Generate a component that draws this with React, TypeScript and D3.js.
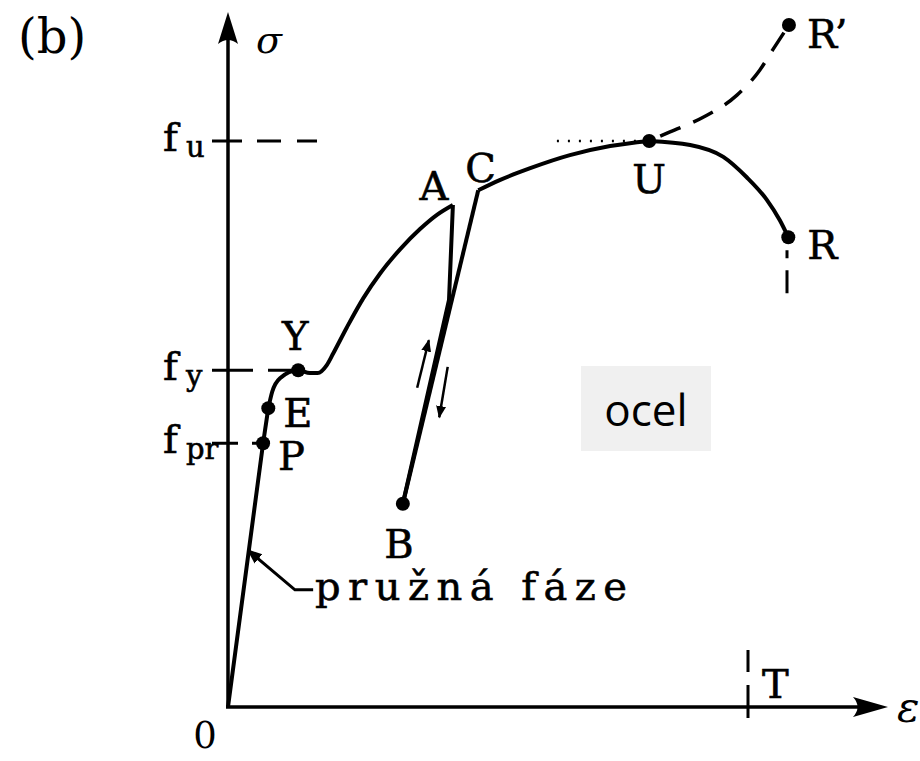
import React from "react";
import * as d3 from "d3";

// stress-strain curve of steel (strain ε, stress σ as % of f_u)
const elasticPath: [number, number][] = [
  [0, 0],
  [5.4, 46.6],
  [6.2, 52.8],
];
const yieldPath: [number, number][] = [
  [6.2, 52.8],
  [6.8, 55.7],
  [8.0, 58.1],
  [10.8, 59.5],
  [12.6, 59.0],
  [13.8, 59.0],
  [15.2, 60.4],
  [16.2, 62.5],
  [18.3, 67.1],
  [20.8, 72.2],
  [23.4, 76.6],
  [26.5, 80.9],
  [29.5, 84.4],
  [32.2, 87.0],
  [34.6, 88.7],
];
const unloadPath: [number, number][] = [
  [34.6, 88.7],
  [34.0, 71.9],
  [26.9, 35.9],
];
const reloadPath: [number, number][] = [
  [26.9, 35.9],
  [38.5, 91.3],
];
const hardeningPath: [number, number][] = [
  [38.5, 91.3],
  [41.8, 93.1],
  [46.5, 95.2],
  [52.6, 97.5],
  [58.8, 99.1],
  [64.8, 100],
];
const neckingPath: [number, number][] = [
  [64.8, 100],
  [71.1, 99.3],
  [76.2, 97.2],
  [79.8, 93.6],
  [82.9, 89.6],
  [84.9, 86.0],
  [86.2, 83.0],
];
const trueStressPath: [number, number][] = [
  [64.8, 100],
  [68.0, 101.6],
  [73.1, 104.2],
  [78.3, 108.1],
  [81.8, 112.5],
  [83.8, 116.1],
  [86.3, 120.5],
];
const plateauDots: [number, number][] = [
  [50.6, 100],
  [63.4, 100],
];
const belowR: [number, number][] = [
  [86.0, 80.7],
  [86.0, 73.1],
];

const pointNames = ["P", "E", "Y", "A", "B", "C", "U", "R", "R’"];
const pointStrain = [5.4, 6.2, 10.8, 34.6, 26.9, 38.5, 64.8, 86.2, 86.3];
const pointStress = [46.6, 52.8, 59.5, 88.7, 35.9, 91.3, 100, 83.0, 120.5];
const dotted = ["P", "E", "Y", "B", "U", "R", "R’"];

const levelSubs = ["u", "y", "pr"];
const levelValues = [100, 59.5, 46.6];
const levelEnds = [13.8, 10.8, 5.4];

const strainT = 80.0;
const upArrow: [number, number][] = [
  [29.1, 56.4],
  [30.9, 64.8],
];
const downArrow: [number, number][] = [
  [33.8, 60.1],
  [32.5, 51.2],
];
const leader: [number, number][] = [
  [13.1, 20.7],
  [10.3, 20.7],
  [3.1, 27.7],
];

const W = 920;
const H = 761;
const FONT = "'DejaVu Serif', serif";

const x = d3.scaleLinear().domain([0, 100]).range([228, 878]);
const y = d3.scaleLinear().domain([0, 100]).range([707, 141]);

const straight = d3
  .line<[number, number]>()
  .x((d) => x(d[0]))
  .y((d) => y(d[1]));
const smooth = d3
  .line<[number, number]>()
  .x((d) => x(d[0]))
  .y((d) => y(d[1]))
  .curve(d3.curveMonotoneX);

const labelOffset: Record<string, [number, number]> = {
  P: [15, 27],
  E: [15, 19],
  Y: [-3, -20],
  A: [-19, -5],
  B: [-4, 54],
  C: [-13, -8],
  U: [0, 52],
  R: [19, 22],
  "R’": [18, 23],
};
const labelAnchor: Record<string, string> = {
  Y: "middle",
  A: "middle",
  B: "middle",
  U: "middle",
};

const App = () => {
  const x0 = x(0);
  const y0 = y(0);
  const yTop = 12;
  const xEnd = 888;
  const levelDash = ["30 15 24 16 20", "41 15 31", "26 14 11"];

  return (
    <svg
      width={W}
      height={H}
      viewBox={`0 0 ${W} ${H}`}
      style={{ position: "absolute", left: 0, top: 0, background: "#fff" }}
    >
      <defs>
        <marker
          id="head"
          viewBox="0 0 10 10"
          refX="9"
          refY="5"
          markerWidth="5"
          markerHeight="5"
          orient="auto"
        >
          <path d="M0,1 L10,5 L0,9 Z" fill="#000" />
        </marker>
      </defs>

      {/* axes */}
      <line x1={x0} y1={y0} x2={x0} y2={yTop + 20} stroke="#000" strokeWidth={3.5} />
      <path
        d={`M${x0},${yTop} L${x0 - 10},${yTop + 32} Q${x0},${yTop + 24} ${x0 + 10},${yTop + 32} Z`}
        fill="#000"
      />
      <line x1={x0 - 2} y1={y0} x2={xEnd - 20} y2={y0} stroke="#000" strokeWidth={3.5} />
      <path
        d={`M${xEnd},${y0} L${xEnd - 35},${y0 - 10} Q${xEnd - 26},${y0} ${xEnd - 35},${y0 + 10} Z`}
        fill="#000"
      />

      {/* stress levels */}
      {levelValues.map((v, i) => (
        <line
          key={levelSubs[i]}
          x1={x0 - 16}
          x2={x(levelEnds[i])}
          y1={y(v)}
          y2={y(v)}
          stroke="#000"
          strokeWidth={3}
          strokeDasharray={levelDash[i]}
        />
      ))}
      {levelValues.map((v, i) => (
        <text key={"t" + i} fontFamily={FONT} fill="#000" stroke="#000" strokeWidth={0.6}>
          <tspan x={163} y={y(v) + 10} fontSize={40}>
            f
          </tspan>
          <tspan x={186} y={y(v) + 16} fontSize={29}>
            {levelSubs[i]}
          </tspan>
        </text>
      ))}

      {/* T strain */}
      <line
        x1={x(strainT)}
        x2={x(strainT)}
        y1={y0 - 57}
        y2={y0 + 11}
        stroke="#000"
        strokeWidth={3}
        strokeDasharray="22 13 40"
      />
      <text x={x(strainT) + 14} y={698} fontFamily={FONT} fontSize={40} stroke="#000" strokeWidth={0.6}>
        T
      </text>

      {/* curve */}
      <g fill="none" stroke="#000" strokeWidth={4} strokeLinejoin="miter">
        <path d={straight(elasticPath) ?? ""} />
        <path d={smooth(yieldPath) ?? ""} />
        <path d={straight(unloadPath) ?? ""} />
        <path d={straight(reloadPath) ?? ""} />
        <path d={smooth(hardeningPath) ?? ""} />
        <path d={smooth(neckingPath) ?? ""} />
      </g>
      <path
        d={smooth(trueStressPath) ?? ""}
        fill="none"
        stroke="#000"
        strokeWidth={3.5}
        strokeDasharray="22 14"
        strokeDashoffset={-12}
      />
      <path
        d={straight(plateauDots) ?? ""}
        fill="none"
        stroke="#000"
        strokeWidth={2.5}
        strokeDasharray="2 9"
      />
      <path
        d={straight(belowR) ?? ""}
        fill="none"
        stroke="#000"
        strokeWidth={3}
        strokeDasharray="8 12 24"
      />

      {/* loading / unloading arrows */}
      {[upArrow, downArrow].map((a, i) => (
        <path
          key={"a" + i}
          d={straight(a) ?? ""}
          fill="none"
          stroke="#000"
          strokeWidth={2.5}
          markerEnd="url(#head)"
        />
      ))}

      {/* points */}
      {pointNames.map((n, i) =>
        dotted.includes(n) ? (
          <circle
            key={"d" + n}
            cx={x(pointStrain[i])}
            cy={y(pointStress[i])}
            r={7}
            fill="#000"
          />
        ) : null
      )}
      {pointNames.map((n, i) => (
        <text
          key={"l" + n}
          x={x(pointStrain[i]) + labelOffset[n][0]}
          y={y(pointStress[i]) + labelOffset[n][1]}
          textAnchor={labelAnchor[n] ?? "start"}
          fontFamily={FONT}
          fontSize={40}
          fill="#000"
          stroke="#000"
          strokeWidth={0.6}
        >
          {n}
        </text>
      ))}

      {/* elastic phase label */}
      <path
        d={straight(leader) ?? ""}
        fill="none"
        stroke="#000"
        strokeWidth={3}
        markerEnd="url(#head)"
      />
      <text
        x={315}
        y={600}
        fontFamily={FONT}
        fontSize={40}
        textLength={312}
        lengthAdjust="spacing"
        stroke="#000"
        strokeWidth={0.6}
      >
        pružná fáze
      </text>

      {/* misc labels */}
      <text x={18} y={53} fontFamily={FONT} fontSize={48}>
        (b)
      </text>
      <text x={256} y={53} fontFamily={FONT} fontSize={38} fontStyle="italic">
        σ
      </text>
      <text x={205} y={748} textAnchor="middle" fontFamily={FONT} fontSize={37}>
        0
      </text>
      <text x={897} y={722} fontFamily={FONT} fontSize={42} fontStyle="italic">
        ε
      </text>

      <rect x={581} y={366} width={130} height={85} fill="#f0f0f0" />
      <text
        x={646}
        y={426}
        textAnchor="middle"
        fontFamily="'Open Sans', sans-serif"
        fontSize={44}
        fill="#000"
      >
        ocel
      </text>
    </svg>
  );
};

export default App;
